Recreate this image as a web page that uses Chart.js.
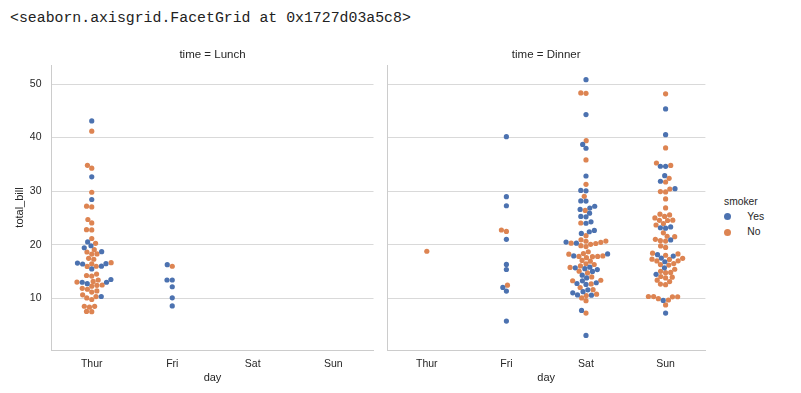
<!DOCTYPE html>
<html><head><meta charset="utf-8">
<script src="https://cdn.jsdelivr.net/npm/chart.js@4.4.1/dist/chart.umd.min.js"></script>
<style>
html,body{margin:0;padding:0;background:#fff;}
#wrap{position:relative;width:801px;height:393px;overflow:hidden;background:#fff;}
#hdr{position:absolute;left:10px;top:9px;font-family:'Liberation Mono',monospace;font-size:14.85px;line-height:18px;color:#222;white-space:pre;}
canvas{position:absolute;top:0;}
#c1{left:0;}
#c2{left:378px;}
.lg{position:absolute;font-family:'Liberation Sans',Arial,sans-serif;font-size:10.3px;color:#262626;line-height:12px;white-space:nowrap;}
.dot{position:absolute;width:7px;height:7px;border-radius:50%;}
</style></head><body><div id="wrap">
<div id="hdr"></div>
<canvas id="c1" width="378" height="393"></canvas>
<canvas id="c2" width="330" height="393"></canvas>
<div id="legend"></div>
</div>
<script>
// ---------------- data ----------------
const reprText = '<seaborn.axisgrid.FacetGrid at 0x1727d03a5c8>';
const days = ['Thur', 'Fri', 'Sat', 'Sun'];
const yTicks = [10, 20, 30, 40, 50];
const smokerLevels = ['Yes', 'No'];
const legendTitle = 'smoker';
const xLabel = 'day';
const yLabel = 'total_bill';
const panelTitles = ['time = Lunch', 'time = Dinner'];

// Lunch
const lunchThurYes = [19.44, 32.68, 16.00, 19.81, 28.44, 15.48, 16.58, 10.34, 43.11, 13.00, 13.51, 18.71, 12.74, 13.00, 16.40, 20.53, 16.47];
const lunchThurNo = [27.20, 22.76, 17.29, 16.66, 10.07, 15.98, 34.83, 13.03, 18.28, 24.71, 21.16, 10.65, 12.43, 24.08, 11.69, 13.42, 14.26, 15.95, 12.48, 29.80, 8.52, 14.52, 11.38, 22.82, 19.08, 20.27, 11.17, 12.26, 18.26, 8.51, 10.33, 14.15, 13.16, 17.47, 34.30, 41.19, 27.05, 16.43, 8.35, 18.64, 11.87, 9.78, 7.51, 7.56];
const lunchFriYes = [12.16, 13.42, 8.58, 13.42, 16.27, 10.09];
const lunchFriNo = [15.98];

// Dinner
const dinnerThurYes = [];
const dinnerThurNo = [18.78];
const dinnerFriYes = [28.97, 5.75, 16.32, 40.17, 27.28, 12.03, 21.01, 11.35, 15.38];
const dinnerFriNo = [22.49, 22.75, 12.46];
const dinnerSatYes = [38.01, 11.24, 20.29, 13.81, 11.02, 18.29, 3.07, 15.01, 26.86, 25.28, 17.92, 44.30, 22.42, 15.36, 20.49, 25.21, 14.31, 10.59, 10.63, 50.81, 15.81, 26.59, 38.73, 24.27, 12.76, 30.06, 25.89, 13.27, 28.17, 12.90, 28.15, 11.59, 7.74, 30.14, 22.12, 24.01, 15.69, 15.53, 12.60, 32.83, 27.18, 22.67];
const dinnerSatNo = [20.65, 17.92, 20.29, 15.77, 39.42, 19.82, 17.81, 13.37, 12.69, 21.70, 19.65, 9.55, 18.35, 15.06, 20.69, 17.78, 24.06, 16.31, 16.93, 18.69, 31.27, 16.04, 26.41, 48.27, 17.59, 20.08, 16.45, 20.23, 12.02, 17.07, 14.73, 10.51, 20.92, 18.24, 14.00, 7.25, 48.33, 20.45, 13.28, 11.61, 10.77, 10.07, 35.83, 29.03, 17.82];
const dinnerSunYes = [17.51, 7.25, 31.85, 16.82, 32.90, 17.89, 14.48, 9.60, 34.63, 34.65, 23.33, 45.35, 23.17, 40.55, 20.90, 30.46, 18.15, 23.10, 15.69];
const dinnerSunNo = [16.99, 10.34, 21.01, 23.68, 24.59, 25.29, 8.77, 26.88, 15.04, 14.78, 10.27, 35.26, 15.42, 18.43, 14.83, 21.58, 10.33, 16.29, 16.97, 17.46, 13.94, 9.68, 30.40, 18.29, 22.23, 32.40, 28.55, 18.04, 12.54, 10.29, 34.81, 9.94, 25.56, 19.49, 38.07, 23.95, 25.71, 17.31, 29.93, 14.07, 13.13, 17.26, 24.55, 19.77, 29.85, 48.17, 25.00, 13.39, 16.49, 21.50, 12.66, 16.21, 13.81, 24.52, 20.76, 31.71, 20.69];

const lunchGroups = {
  Thur: {Yes: lunchThurYes, No: lunchThurNo},
  Fri: {Yes: lunchFriYes, No: lunchFriNo},
  Sat: {Yes: [], No: []},
  Sun: {Yes: [], No: []}
};
const dinnerGroups = {
  Thur: {Yes: dinnerThurYes, No: dinnerThurNo},
  Fri: {Yes: dinnerFriYes, No: dinnerFriNo},
  Sat: {Yes: dinnerSatYes, No: dinnerSatNo},
  Sun: {Yes: dinnerSunYes, No: dinnerSunNo}
};

// ---------------- style ----------------
const COLORS = {Yes: '#4C72B0', No: '#DD8452'};
const FONT = "'Liberation Sans', Arial, sans-serif";
const TEXT = '#262626';
const GRID = '#d9d9d9';
const SPINE = '#cccccc';
const Y_MIN = 0.35, Y_MAX = 53.55;
const DOT_D = 5;

document.getElementById('hdr').textContent = reprText;

// legend (HTML text)
(function buildLegend() {
  const lg = document.getElementById('legend');
  const t = document.createElement('div');
  t.className = 'lg'; t.style.left = '724px'; t.style.top = '196px'; t.textContent = legendTitle;
  lg.appendChild(t);
  smokerLevels.forEach((s, i) => {
    const cy = 216.7 + i * 15.6;
    const d = document.createElement('span');
    d.className = 'dot'; d.style.left = (727.7 - 3.5) + 'px'; d.style.top = (cy - 3.5) + 'px';
    d.style.background = COLORS[s];
    lg.appendChild(d);
    const l = document.createElement('div');
    l.className = 'lg'; l.style.left = '747.3px'; l.style.top = (cy - 6) + 'px'; l.textContent = s;
    lg.appendChild(l);
  });
})();

Chart.defaults.font.family = FONT;
Chart.defaults.color = TEXT;

function makeChart(id, title, showY, yWidth, padRight) {
  return new Chart(document.getElementById(id), {
    type: 'scatter',
    data: {datasets: smokerLevels.map(s => ({
      label: s, data: [], backgroundColor: COLORS[s], borderWidth: 0,
      pointRadius: DOT_D / 2 + 0.1, pointHoverRadius: DOT_D / 2 + 0.1
    }))},
    options: {
      responsive: false, animation: false, events: [],
      layout: {padding: {top: 48.1, left: 0, right: padRight, bottom: 0}},
      plugins: {
        legend: {display: false}, tooltip: {enabled: false},
        title: {display: true, text: title, fullSize: false, color: TEXT,
          font: {size: 11.5, weight: 'normal', family: FONT}, padding: {top: 0, bottom: 3.1}}
      },
      scales: {
        x: {
          type: 'linear', min: -0.5, max: 3.5,
          afterBuildTicks: s => { s.ticks = days.map((d, i) => ({value: i})); },
          afterFit: s => { s.height = 43; },
          ticks: {callback: v => days[v], padding: 7.5, color: TEXT, font: {size: 10.5}, maxRotation: 0},
          grid: {display: false, drawTicks: false},
          border: {display: true, color: SPINE, width: 1},
          title: {display: true, text: xLabel, color: TEXT, font: {size: 11}, padding: {top: 0, bottom: 8.4}}
        },
        y: {
          type: 'linear', min: Y_MIN, max: Y_MAX,
          afterBuildTicks: s => { s.ticks = yTicks.map(v => ({value: v})); },
          afterFit: s => { s.width = yWidth; },
          ticks: {display: showY, padding: 10, color: TEXT, font: {size: 10.5}},
          grid: {color: GRID, lineWidth: 1, drawTicks: false},
          border: {display: true, color: SPINE, width: 1},
          title: {display: showY, text: yLabel, color: TEXT, font: {size: 11}, padding: {top: 13.4, bottom: 0}}
        }
      }
    }
  });
}

// seaborn-style beeswarm, computed in pixel space through the chart's scales
function layoutSwarm(chart, groups) {
  const xs = chart.scales.x, ys = chart.scales.y;
  const out = {};
  smokerLevels.forEach(s => out[s] = []);
  days.forEach((day, ci) => {
    const g = groups[day];
    const pts = [];
    smokerLevels.forEach(s => (g[s] || []).forEach(v => pts.push({v, s, py: ys.getPixelForValue(v)})));
    if (!pts.length) return;
    const cx = xs.getPixelForValue(ci);
    const sorted = pts.slice().sort((a, b) => a.v - b.v);
    const swarm = [];
    sorted.forEach((p, k) => {
      if (k === 0) { p.px = cx; swarm.push(p); return; }
      const nb = [];
      for (let j = swarm.length - 1; j >= 0; j--) {
        if (Math.abs(p.py - swarm[j].py) < DOT_D) nb.unshift(swarm[j]); else break;
      }
      const cands = [cx];
      let leftFirst = true;
      nb.forEach(q => {
        const dy = p.py - q.py;
        const dx = Math.sqrt(Math.max(DOT_D * DOT_D - dy * dy, 0)) * 1.05;
        if (leftFirst) cands.push(q.px - dx, q.px + dx); else cands.push(q.px + dx, q.px - dx);
        leftFirst = !leftFirst;
      });
      const ordered = cands.map((x, j) => ({x, j, o: Math.abs(x - cx)})).sort((a, b) => a.o - b.o || a.j - b.j);
      let chosen = cx;
      for (const c of ordered) {
        if (nb.every(q => (q.px - c.x) ** 2 + (q.py - p.py) ** 2 >= DOT_D * DOT_D - 1e-9)) { chosen = c.x; break; }
      }
      p.px = chosen;
      swarm.push(p);
    });
    sorted.forEach(p => out[p.s].push({x: xs.getValueForPixel(p.px), y: p.v}));
  });
  chart.data.datasets.forEach(ds => { ds.data = out[ds.label]; });
  chart.update('none');
}

const c1 = makeChart('c1', panelTitles[0], true, 51.5, 4.5);
const c2 = makeChart('c2', panelTitles[1], false, 9, 0.3);
layoutSwarm(c1, lunchGroups);
layoutSwarm(c2, dinnerGroups);
</script>
</body></html>
